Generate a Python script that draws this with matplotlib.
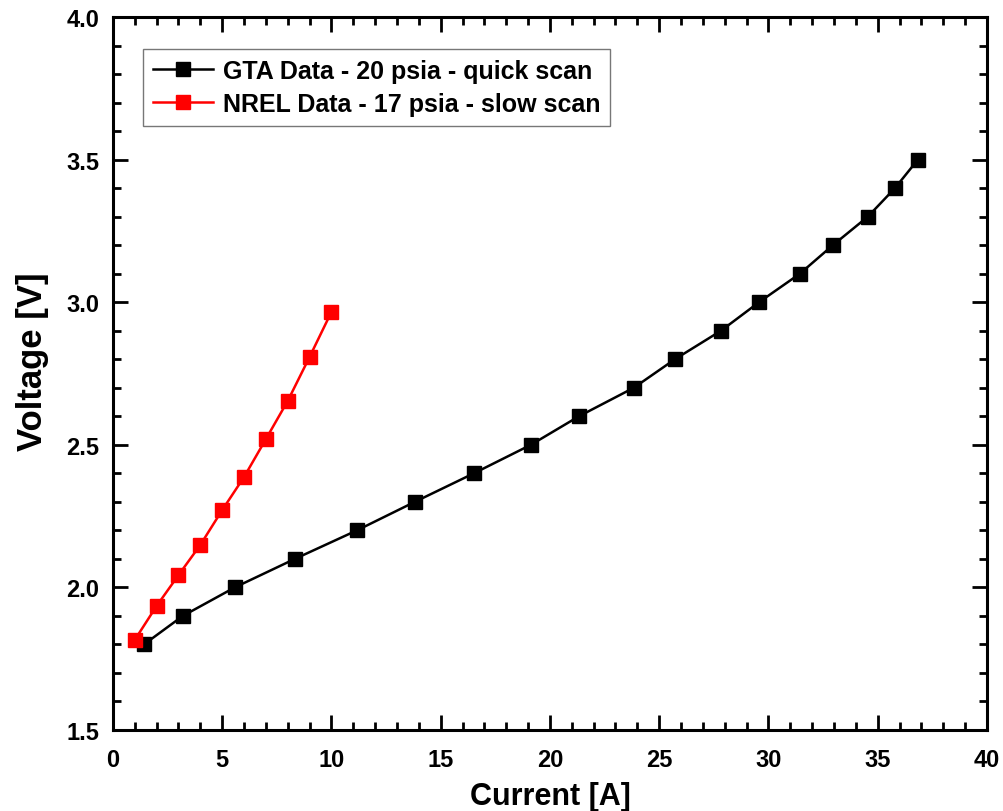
import matplotlib
matplotlib.use("Agg")
import matplotlib.pyplot as plt
from matplotlib.ticker import MultipleLocator

plt.rcParams['font.family'] = ['Liberation Sans', 'DejaVu Sans']
plt.rcParams['font.weight'] = 'bold'

gta_current = [1.42, 3.2, 5.58, 8.33, 11.17, 13.82, 16.52, 19.13, 21.33, 23.84,
               25.72, 27.83, 29.57, 31.44, 32.95, 34.55, 35.79, 36.84]
gta_voltage = [1.8, 1.9, 2.0, 2.1, 2.2, 2.3, 2.4, 2.5, 2.6, 2.7,
               2.8, 2.9, 3.0, 3.1, 3.2, 3.3, 3.4, 3.5]
nrel_current = [1, 2, 3, 4, 5, 6, 7, 8, 9, 10]
nrel_voltage = [1.816, 1.935, 2.043, 2.149, 2.271, 2.387, 2.520, 2.654, 2.808, 2.966]
gta_label = "GTA Data - 20 psia - quick scan"
nrel_label = "NREL Data - 17 psia - slow scan"

fig = plt.figure(figsize=(10.04, 8.12), dpi=100)
ax = fig.add_axes([0.1125, 0.0998, 0.8705, 0.878])

ax.plot(gta_current, gta_voltage, color='black', lw=1.8, marker='s', ms=10,
        label=gta_label)
ax.plot(nrel_current, nrel_voltage, color='red', lw=1.8, marker='s', ms=10,
        label=nrel_label)

ax.set_xlim(0, 40)
ax.set_ylim(1.5, 4.0)
ax.xaxis.set_major_locator(MultipleLocator(5))
ax.xaxis.set_minor_locator(MultipleLocator(1))
ax.yaxis.set_major_locator(MultipleLocator(0.5))
ax.yaxis.set_minor_locator(MultipleLocator(0.1))
ax.tick_params(which='both', direction='in', top=True, right=True, width=2)
ax.tick_params(which='major', length=10.5, labelsize=17)
ax.tick_params(which='minor', length=5.8)
ax.tick_params(axis='x', which='major', pad=13)
ax.tick_params(axis='y', which='major', pad=10)
for s in ax.spines.values():
    s.set_linewidth(2.2)
for lbl in ax.get_xticklabels() + ax.get_yticklabels():
    lbl.set_fontweight('bold')

ax.set_xlabel("Current [A]", fontsize=22, fontweight='bold', labelpad=7)
ax.set_ylabel("Voltage [V]", fontsize=25, fontweight='bold', labelpad=12)
ax.yaxis.label.set_y(0.518)

leg = ax.legend(loc='upper left', bbox_to_anchor=(0.0343, 0.955), fontsize=18,
                frameon=True, fancybox=False, edgecolor='#555555',
                handlelength=2.4, handletextpad=0.4, borderpad=0.4,
                labelspacing=0.35, borderaxespad=0)
leg.get_frame().set_linewidth(1.0)
for t in leg.get_texts():
    t.set_fontweight('bold')

fig.savefig("out.png", dpi=100)
